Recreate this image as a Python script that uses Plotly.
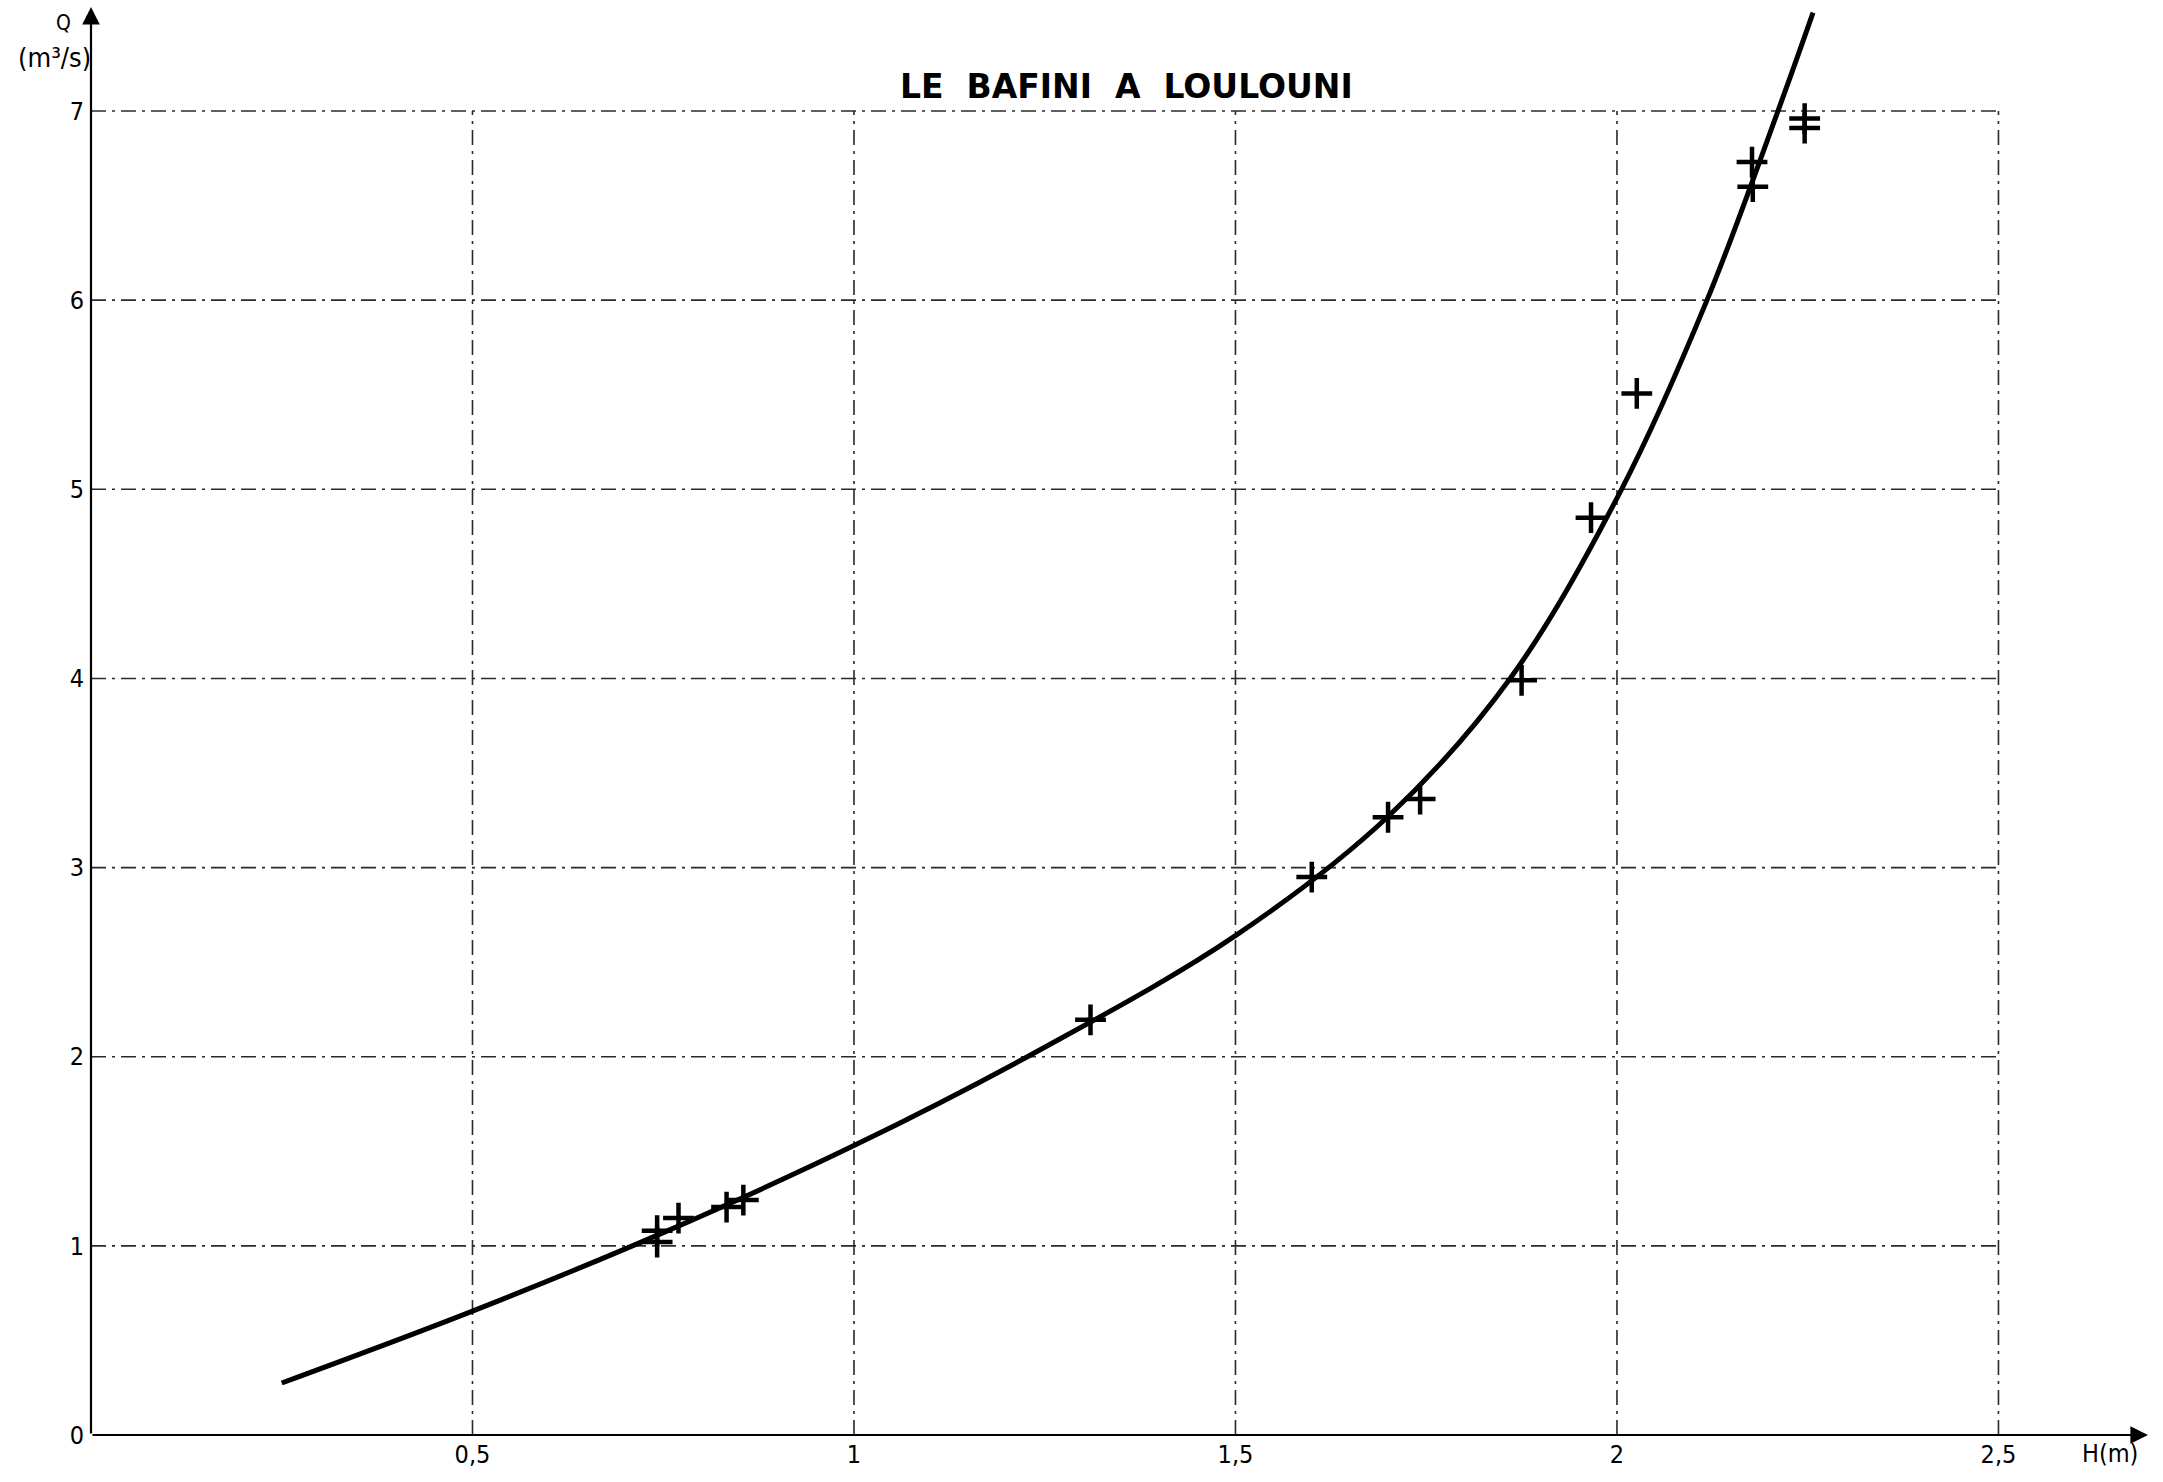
import plotly.graph_objects as go

# ---- data ----
obs_h = [0.742, 0.742, 0.770, 0.833, 0.855, 1.310, 1.600, 1.700, 1.742, 1.875,
         1.966, 2.026, 2.177, 2.178, 2.246, 2.246]
obs_q = [1.08, 1.02, 1.147, 1.205, 1.242, 2.195, 2.95, 3.266, 3.362, 3.99,
         4.85, 5.507, 6.73, 6.60, 6.96, 6.91]

curve_h = [0.25, 0.50, 0.75, 1.00, 1.25, 1.50, 1.70, 1.86,
           2.006, 2.118, 2.211, 2.257]
curve_q = [0.275, 0.655, 1.07, 1.53, 2.05, 2.64, 3.27, 4.00,
           5.00, 6.00, 7.00, 7.52]

x_ticks = [0.5, 1, 1.5, 2, 2.5]
x_labels = ["0,5", "1", "1,5", "2", "2,5"]
y_ticks = [0, 1, 2, 3, 4, 5, 6, 7]
y_labels = ["0", "1", "2", "3", "4", "5", "6", "7"]

title_text = "LE\u00a0\u00a0BAFINI\u00a0\u00a0A\u00a0\u00a0LOULOUNI"

X_MAX = 2.696
Y_MAX = 7.55
FONT = "Liberation Sans Narrow, DejaVu Sans Condensed, DejaVu Sans, sans-serif"

fig = go.Figure()

fig.add_trace(go.Scatter(
    x=curve_h, y=curve_q, mode="lines",
    line=dict(color="black", width=5, shape="spline", smoothing=1.0),
    hoverinfo="skip", showlegend=False, cliponaxis=False,
))
fig.add_trace(go.Scatter(
    x=obs_h, y=obs_q, mode="markers",
    marker=dict(symbol="cross-thin", size=22, line=dict(color="black", width=4.5)),
    showlegend=False, cliponaxis=False,
))

shapes = []
grid_style = dict(color="#2a2a2a", width=1.6, dash="longdashdot")
for yv in y_ticks[1:]:
    shapes.append(dict(type="line", xref="x", yref="y", x0=0, x1=x_ticks[-1],
                       y0=yv, y1=yv, line=grid_style, layer="below"))
for xv in x_ticks:
    shapes.append(dict(type="line", xref="x", yref="y", x0=xv, x1=xv,
                       y0=0, y1=y_ticks[-1], line=grid_style, layer="below"))

annotations = [
    # axes with arrows
    dict(x=X_MAX, y=0, ax=0, ay=0, xref="x", yref="y", axref="x", ayref="y",
         showarrow=True, arrowhead=2, arrowsize=1.6, arrowwidth=2.2,
         arrowcolor="black", text=""),
    dict(x=0, y=Y_MAX, ax=0, ay=0, xref="x", yref="y", axref="x", ayref="y",
         showarrow=True, arrowhead=2, arrowsize=1.6, arrowwidth=2.2,
         arrowcolor="black", text=""),
    # title
    dict(x=1.357, y=7.13, xref="x", yref="y",
         text="<b>" + title_text + "</b>", showarrow=False,
         font=dict(family="DejaVu Sans, sans-serif", size=33, color="black"),
         xanchor="center", yanchor="middle"),
    # axis titles
    dict(x=0, y=Y_MAX, xref="x", yref="y", text="Q", showarrow=False,
         xanchor="center", yanchor="top", xshift=-28, yshift=-2,
         font=dict(family=FONT, size=21, color="black")),
    dict(x=0, y=Y_MAX, xref="x", yref="y", text="(m\u00b3/s)", showarrow=False,
         xanchor="right", yanchor="top", xshift=2, yshift=-33,
         font=dict(family=FONT, size=27, color="black")),
    dict(x=X_MAX, y=0, xref="x", yref="y", text="H(m)", showarrow=False,
         xanchor="right", yanchor="top", xshift=-8, yshift=-2,
         font=dict(family=FONT, size=25, color="black")),
]

fig.update_layout(
    width=2163, height=1482,
    margin=dict(l=91, r=15, t=7, b=47),
    paper_bgcolor="white", plot_bgcolor="white",
    shapes=shapes, annotations=annotations,
    showlegend=False,
    xaxis=dict(range=[0, X_MAX], tickvals=x_ticks, ticktext=x_labels,
               showgrid=False, zeroline=False, showline=False, ticks="",
               ticklabelstandoff=2,
               tickfont=dict(family=FONT, size=25, color="black")),
    yaxis=dict(range=[0, Y_MAX], tickvals=y_ticks, ticktext=y_labels,
               showgrid=False, zeroline=False, showline=False, ticks="",
               ticklabelstandoff=6,
               tickfont=dict(family=FONT, size=25, color="black")),
)

fig.write_html("out.html", config={"displayModeBar": False},
               post_script="document.body.style.margin='0';document.body.style.overflow='hidden';")
